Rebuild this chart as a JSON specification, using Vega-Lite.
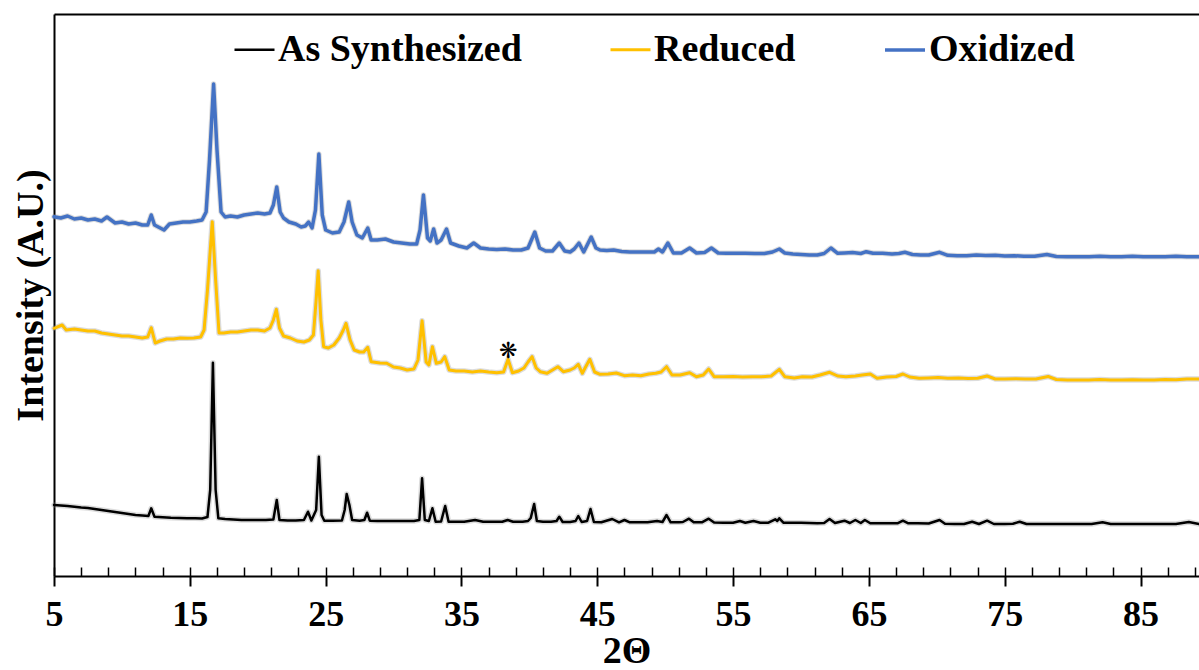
{
  "$schema": "https://vega.github.io/schema/vega-lite/v6.json",
  "width": 1145,
  "height": 562,
  "autosize": {"type": "none"},
  "padding": {"left": 54, "top": 14, "right": 0, "bottom": 94},
  "config": {"view": {"stroke": null}, "font": "Liberation Serif"},
  "datasets": {
    "xrd": [
      {"s":"Oxidized","t":5.0,"v":359.3},{"s":"Oxidized","t":5.5,"v":358},{"s":"Oxidized","t":6.0,"v":360},{"s":"Oxidized","t":6.5,"v":357},{"s":"Oxidized","t":7.0,"v":358},{"s":"Oxidized","t":7.5,"v":356},{"s":"Oxidized","t":8.0,"v":357},{"s":"Oxidized","t":8.5,"v":355},{"s":"Oxidized","t":8.9,"v":359},{"s":"Oxidized","t":9.5,"v":353},{"s":"Oxidized","t":10.0,"v":354},{"s":"Oxidized","t":10.5,"v":352},{"s":"Oxidized","t":11.0,"v":353},{"s":"Oxidized","t":11.5,"v":351},{"s":"Oxidized","t":11.9,"v":351},{"s":"Oxidized","t":12.16,"v":361},{"s":"Oxidized","t":12.4,"v":351},{"s":"Oxidized","t":13.1,"v":346},{"s":"Oxidized","t":13.5,"v":352},{"s":"Oxidized","t":14.0,"v":353},{"s":"Oxidized","t":14.5,"v":354},{"s":"Oxidized","t":15.0,"v":354},{"s":"Oxidized","t":15.5,"v":355},{"s":"Oxidized","t":15.9,"v":356},{"s":"Oxidized","t":16.2,"v":364},{"s":"Oxidized","t":16.45,"v":416},{"s":"Oxidized","t":16.75,"v":492},{"s":"Oxidized","t":17.0,"v":426},{"s":"Oxidized","t":17.3,"v":364},{"s":"Oxidized","t":17.6,"v":359},{"s":"Oxidized","t":18.0,"v":360},{"s":"Oxidized","t":18.5,"v":359},{"s":"Oxidized","t":19.0,"v":361},{"s":"Oxidized","t":19.5,"v":362},{"s":"Oxidized","t":20.0,"v":363},{"s":"Oxidized","t":20.5,"v":362},{"s":"Oxidized","t":20.9,"v":363},{"s":"Oxidized","t":21.15,"v":371},{"s":"Oxidized","t":21.4,"v":389},{"s":"Oxidized","t":21.65,"v":364},{"s":"Oxidized","t":21.9,"v":358},{"s":"Oxidized","t":22.3,"v":354},{"s":"Oxidized","t":22.8,"v":352},{"s":"Oxidized","t":23.2,"v":349},{"s":"Oxidized","t":23.5,"v":350},{"s":"Oxidized","t":23.75,"v":354},{"s":"Oxidized","t":24.0,"v":348},{"s":"Oxidized","t":24.25,"v":366},{"s":"Oxidized","t":24.5,"v":422},{"s":"Oxidized","t":24.75,"v":361},{"s":"Oxidized","t":25.0,"v":346},{"s":"Oxidized","t":25.5,"v":343},{"s":"Oxidized","t":26.0,"v":344},{"s":"Oxidized","t":26.35,"v":354},{"s":"Oxidized","t":26.7,"v":374},{"s":"Oxidized","t":26.95,"v":354},{"s":"Oxidized","t":27.3,"v":341},{"s":"Oxidized","t":27.7,"v":338},{"s":"Oxidized","t":28.1,"v":348},{"s":"Oxidized","t":28.35,"v":336},{"s":"Oxidized","t":28.8,"v":336},{"s":"Oxidized","t":29.4,"v":337},{"s":"Oxidized","t":30.0,"v":334},{"s":"Oxidized","t":30.6,"v":333},{"s":"Oxidized","t":31.2,"v":332},{"s":"Oxidized","t":31.7,"v":332},{"s":"Oxidized","t":31.95,"v":346},{"s":"Oxidized","t":32.2,"v":381},{"s":"Oxidized","t":32.5,"v":338},{"s":"Oxidized","t":32.7,"v":335},{"s":"Oxidized","t":32.95,"v":347},{"s":"Oxidized","t":33.2,"v":333},{"s":"Oxidized","t":33.5,"v":336},{"s":"Oxidized","t":33.9,"v":347},{"s":"Oxidized","t":34.2,"v":333},{"s":"Oxidized","t":34.8,"v":330},{"s":"Oxidized","t":35.4,"v":328},{"s":"Oxidized","t":35.9,"v":333},{"s":"Oxidized","t":36.4,"v":328},{"s":"Oxidized","t":37.0,"v":327},{"s":"Oxidized","t":37.6,"v":326.5},{"s":"Oxidized","t":38.2,"v":327},{"s":"Oxidized","t":38.8,"v":326},{"s":"Oxidized","t":39.4,"v":326},{"s":"Oxidized","t":39.9,"v":328},{"s":"Oxidized","t":40.15,"v":336},{"s":"Oxidized","t":40.4,"v":344},{"s":"Oxidized","t":40.75,"v":328},{"s":"Oxidized","t":41.2,"v":325},{"s":"Oxidized","t":41.7,"v":325},{"s":"Oxidized","t":42.2,"v":333},{"s":"Oxidized","t":42.6,"v":325},{"s":"Oxidized","t":43.0,"v":324},{"s":"Oxidized","t":43.3,"v":327},{"s":"Oxidized","t":43.65,"v":333},{"s":"Oxidized","t":44.0,"v":324},{"s":"Oxidized","t":44.55,"v":339},{"s":"Oxidized","t":44.9,"v":328},{"s":"Oxidized","t":45.2,"v":326},{"s":"Oxidized","t":45.7,"v":325.5},{"s":"Oxidized","t":46.2,"v":326},{"s":"Oxidized","t":46.8,"v":324.5},{"s":"Oxidized","t":47.4,"v":324},{"s":"Oxidized","t":48.0,"v":324},{"s":"Oxidized","t":48.6,"v":324},{"s":"Oxidized","t":49.2,"v":324},{"s":"Oxidized","t":49.5,"v":327},{"s":"Oxidized","t":49.8,"v":324},{"s":"Oxidized","t":50.2,"v":333},{"s":"Oxidized","t":50.6,"v":323},{"s":"Oxidized","t":51.2,"v":323},{"s":"Oxidized","t":51.8,"v":328},{"s":"Oxidized","t":52.3,"v":323},{"s":"Oxidized","t":52.9,"v":323.5},{"s":"Oxidized","t":53.4,"v":328},{"s":"Oxidized","t":53.9,"v":323},{"s":"Oxidized","t":54.5,"v":322.7},{"s":"Oxidized","t":55.2,"v":322.7},{"s":"Oxidized","t":55.9,"v":322.7},{"s":"Oxidized","t":56.6,"v":322.5},{"s":"Oxidized","t":57.3,"v":322.5},{"s":"Oxidized","t":57.9,"v":324},{"s":"Oxidized","t":58.4,"v":327},{"s":"Oxidized","t":58.8,"v":323},{"s":"Oxidized","t":59.4,"v":322},{"s":"Oxidized","t":60.0,"v":321.5},{"s":"Oxidized","t":60.6,"v":321},{"s":"Oxidized","t":61.2,"v":321},{"s":"Oxidized","t":61.7,"v":322.5},{"s":"Oxidized","t":62.2,"v":328},{"s":"Oxidized","t":62.7,"v":322.7},{"s":"Oxidized","t":63.2,"v":323},{"s":"Oxidized","t":63.8,"v":323.5},{"s":"Oxidized","t":64.4,"v":322.5},{"s":"Oxidized","t":64.8,"v":324.3},{"s":"Oxidized","t":65.3,"v":322.7},{"s":"Oxidized","t":66.0,"v":322.7},{"s":"Oxidized","t":66.7,"v":322},{"s":"Oxidized","t":67.2,"v":322.5},{"s":"Oxidized","t":67.65,"v":323.7},{"s":"Oxidized","t":68.2,"v":321.5},{"s":"Oxidized","t":68.8,"v":321},{"s":"Oxidized","t":69.4,"v":321},{"s":"Oxidized","t":70.2,"v":323.7},{"s":"Oxidized","t":70.8,"v":320.7},{"s":"Oxidized","t":71.5,"v":320.3},{"s":"Oxidized","t":72.2,"v":320.3},{"s":"Oxidized","t":72.9,"v":321},{"s":"Oxidized","t":73.6,"v":320.5},{"s":"Oxidized","t":74.3,"v":320.7},{"s":"Oxidized","t":75.0,"v":320},{"s":"Oxidized","t":75.7,"v":320.3},{"s":"Oxidized","t":76.4,"v":319.7},{"s":"Oxidized","t":77.2,"v":319.7},{"s":"Oxidized","t":78.1,"v":321.5},{"s":"Oxidized","t":78.8,"v":319.5},{"s":"Oxidized","t":79.6,"v":319.3},{"s":"Oxidized","t":80.4,"v":319.3},{"s":"Oxidized","t":81.2,"v":319.3},{"s":"Oxidized","t":82.0,"v":319.7},{"s":"Oxidized","t":82.8,"v":319.3},{"s":"Oxidized","t":83.6,"v":319.3},{"s":"Oxidized","t":84.4,"v":319.7},{"s":"Oxidized","t":85.2,"v":319.3},{"s":"Oxidized","t":86.0,"v":319.3},{"s":"Oxidized","t":86.8,"v":319.3},{"s":"Oxidized","t":87.6,"v":319.7},{"s":"Oxidized","t":88.4,"v":319.3},{"s":"Oxidized","t":89.3,"v":319.3},
      {"s":"Reduced","t":5.0,"v":247.7},{"s":"Reduced","t":5.6,"v":251},{"s":"Reduced","t":5.9,"v":246},{"s":"Reduced","t":6.5,"v":247},{"s":"Reduced","t":7.0,"v":246},{"s":"Reduced","t":7.5,"v":245},{"s":"Reduced","t":8.0,"v":245},{"s":"Reduced","t":8.5,"v":243},{"s":"Reduced","t":9.0,"v":242},{"s":"Reduced","t":9.5,"v":241},{"s":"Reduced","t":10.0,"v":240},{"s":"Reduced","t":10.5,"v":240},{"s":"Reduced","t":11.0,"v":239},{"s":"Reduced","t":11.5,"v":238},{"s":"Reduced","t":11.9,"v":239},{"s":"Reduced","t":12.16,"v":248.3},{"s":"Reduced","t":12.45,"v":233},{"s":"Reduced","t":12.8,"v":235},{"s":"Reduced","t":13.3,"v":237},{"s":"Reduced","t":13.8,"v":237},{"s":"Reduced","t":14.3,"v":238},{"s":"Reduced","t":14.8,"v":237.7},{"s":"Reduced","t":15.3,"v":238},{"s":"Reduced","t":15.8,"v":239},{"s":"Reduced","t":16.05,"v":246},{"s":"Reduced","t":16.3,"v":286},{"s":"Reduced","t":16.65,"v":354.3},{"s":"Reduced","t":16.9,"v":296},{"s":"Reduced","t":17.15,"v":243},{"s":"Reduced","t":17.5,"v":243},{"s":"Reduced","t":18.0,"v":244},{"s":"Reduced","t":18.5,"v":244},{"s":"Reduced","t":19.0,"v":245},{"s":"Reduced","t":19.5,"v":246},{"s":"Reduced","t":20.0,"v":246},{"s":"Reduced","t":20.5,"v":245},{"s":"Reduced","t":20.9,"v":248},{"s":"Reduced","t":21.15,"v":256},{"s":"Reduced","t":21.37,"v":266.7},{"s":"Reduced","t":21.6,"v":248},{"s":"Reduced","t":21.9,"v":240},{"s":"Reduced","t":22.4,"v":238},{"s":"Reduced","t":22.9,"v":235},{"s":"Reduced","t":23.4,"v":234},{"s":"Reduced","t":23.8,"v":236},{"s":"Reduced","t":24.1,"v":241},{"s":"Reduced","t":24.3,"v":276},{"s":"Reduced","t":24.45,"v":305.3},{"s":"Reduced","t":24.65,"v":256},{"s":"Reduced","t":24.85,"v":229.3},{"s":"Reduced","t":25.2,"v":228},{"s":"Reduced","t":25.6,"v":231},{"s":"Reduced","t":26.0,"v":238},{"s":"Reduced","t":26.3,"v":246},{"s":"Reduced","t":26.5,"v":252.7},{"s":"Reduced","t":26.8,"v":236},{"s":"Reduced","t":27.1,"v":226},{"s":"Reduced","t":27.5,"v":224},{"s":"Reduced","t":27.8,"v":224},{"s":"Reduced","t":28.1,"v":228.7},{"s":"Reduced","t":28.35,"v":214.3},{"s":"Reduced","t":29.0,"v":213},{"s":"Reduced","t":29.5,"v":212.7},{"s":"Reduced","t":30.0,"v":209},{"s":"Reduced","t":30.5,"v":208},{"s":"Reduced","t":31.0,"v":206},{"s":"Reduced","t":31.5,"v":207},{"s":"Reduced","t":31.8,"v":216},{"s":"Reduced","t":32.1,"v":255.3},{"s":"Reduced","t":32.4,"v":214},{"s":"Reduced","t":32.6,"v":211},{"s":"Reduced","t":32.86,"v":229.3},{"s":"Reduced","t":33.15,"v":212.7},{"s":"Reduced","t":33.5,"v":214},{"s":"Reduced","t":33.77,"v":219.3},{"s":"Reduced","t":34.1,"v":206},{"s":"Reduced","t":34.6,"v":205},{"s":"Reduced","t":35.2,"v":205},{"s":"Reduced","t":35.8,"v":204},{"s":"Reduced","t":36.4,"v":205},{"s":"Reduced","t":37.0,"v":204},{"s":"Reduced","t":37.6,"v":203.3},{"s":"Reduced","t":38.1,"v":204},{"s":"Reduced","t":38.43,"v":216.7},{"s":"Reduced","t":38.75,"v":203.3},{"s":"Reduced","t":39.2,"v":205},{"s":"Reduced","t":39.6,"v":208},{"s":"Reduced","t":39.9,"v":214},{"s":"Reduced","t":40.2,"v":219.3},{"s":"Reduced","t":40.5,"v":208},{"s":"Reduced","t":40.8,"v":204.3},{"s":"Reduced","t":41.3,"v":202.7},{"s":"Reduced","t":41.7,"v":206},{"s":"Reduced","t":42.1,"v":209.3},{"s":"Reduced","t":42.5,"v":204.3},{"s":"Reduced","t":43.0,"v":206},{"s":"Reduced","t":43.3,"v":208},{"s":"Reduced","t":43.6,"v":211.7},{"s":"Reduced","t":43.9,"v":202.7},{"s":"Reduced","t":44.1,"v":208},{"s":"Reduced","t":44.45,"v":216.7},{"s":"Reduced","t":44.8,"v":204},{"s":"Reduced","t":45.2,"v":201.7},{"s":"Reduced","t":45.8,"v":202},{"s":"Reduced","t":46.4,"v":203},{"s":"Reduced","t":47.0,"v":200.3},{"s":"Reduced","t":47.6,"v":201},{"s":"Reduced","t":48.2,"v":200.3},{"s":"Reduced","t":48.8,"v":202},{"s":"Reduced","t":49.3,"v":202.7},{"s":"Reduced","t":49.7,"v":204},{"s":"Reduced","t":50.1,"v":209.3},{"s":"Reduced","t":50.5,"v":201},{"s":"Reduced","t":51.1,"v":201},{"s":"Reduced","t":51.8,"v":203.3},{"s":"Reduced","t":52.3,"v":199.3},{"s":"Reduced","t":52.8,"v":201},{"s":"Reduced","t":53.2,"v":207},{"s":"Reduced","t":53.6,"v":199.3},{"s":"Reduced","t":54.3,"v":199.3},{"s":"Reduced","t":55.0,"v":199.5},{"s":"Reduced","t":55.7,"v":199},{"s":"Reduced","t":56.4,"v":199.3},{"s":"Reduced","t":57.1,"v":199.3},{"s":"Reduced","t":57.8,"v":200},{"s":"Reduced","t":58.4,"v":206.7},{"s":"Reduced","t":58.8,"v":199.3},{"s":"Reduced","t":59.5,"v":198},{"s":"Reduced","t":60.1,"v":199.3},{"s":"Reduced","t":60.8,"v":199},{"s":"Reduced","t":61.4,"v":201},{"s":"Reduced","t":62.1,"v":203.7},{"s":"Reduced","t":62.7,"v":200},{"s":"Reduced","t":63.3,"v":199.3},{"s":"Reduced","t":64.0,"v":200},{"s":"Reduced","t":64.5,"v":201},{"s":"Reduced","t":65.1,"v":202},{"s":"Reduced","t":65.6,"v":197.7},{"s":"Reduced","t":66.3,"v":199},{"s":"Reduced","t":67.0,"v":199.5},{"s":"Reduced","t":67.5,"v":202},{"s":"Reduced","t":68.0,"v":199},{"s":"Reduced","t":68.7,"v":197.7},{"s":"Reduced","t":69.4,"v":198},{"s":"Reduced","t":70.1,"v":198.5},{"s":"Reduced","t":70.8,"v":197.7},{"s":"Reduced","t":71.6,"v":198},{"s":"Reduced","t":72.3,"v":197.5},{"s":"Reduced","t":73.0,"v":197.7},{"s":"Reduced","t":73.7,"v":200},{"s":"Reduced","t":74.3,"v":197},{"s":"Reduced","t":75.0,"v":197},{"s":"Reduced","t":75.8,"v":197.3},{"s":"Reduced","t":76.5,"v":197},{"s":"Reduced","t":77.3,"v":197},{"s":"Reduced","t":78.2,"v":199.5},{"s":"Reduced","t":78.8,"v":196.5},{"s":"Reduced","t":79.6,"v":196},{"s":"Reduced","t":80.4,"v":196},{"s":"Reduced","t":81.2,"v":196},{"s":"Reduced","t":82.0,"v":196.5},{"s":"Reduced","t":82.8,"v":196},{"s":"Reduced","t":83.6,"v":196},{"s":"Reduced","t":84.4,"v":196.3},{"s":"Reduced","t":85.2,"v":196},{"s":"Reduced","t":86.0,"v":196},{"s":"Reduced","t":86.8,"v":196.5},{"s":"Reduced","t":87.6,"v":196.3},{"s":"Reduced","t":88.4,"v":197},{"s":"Reduced","t":89.3,"v":197},
      {"s":"As Synthesized","t":5.0,"v":71},{"s":"As Synthesized","t":5.5,"v":70.5},{"s":"As Synthesized","t":6.0,"v":70},{"s":"As Synthesized","t":6.5,"v":69.3},{"s":"As Synthesized","t":7.0,"v":68.5},{"s":"As Synthesized","t":7.5,"v":68},{"s":"As Synthesized","t":8.0,"v":67},{"s":"As Synthesized","t":8.5,"v":66},{"s":"As Synthesized","t":9.0,"v":65},{"s":"As Synthesized","t":9.5,"v":64},{"s":"As Synthesized","t":10.0,"v":63},{"s":"As Synthesized","t":10.5,"v":62},{"s":"As Synthesized","t":11.0,"v":61},{"s":"As Synthesized","t":11.5,"v":60.5},{"s":"As Synthesized","t":11.95,"v":60},{"s":"As Synthesized","t":12.16,"v":67.7},{"s":"As Synthesized","t":12.4,"v":59.3},{"s":"As Synthesized","t":13.0,"v":58.7},{"s":"As Synthesized","t":13.6,"v":58.2},{"s":"As Synthesized","t":14.2,"v":58},{"s":"As Synthesized","t":14.8,"v":57.7},{"s":"As Synthesized","t":15.4,"v":57.7},{"s":"As Synthesized","t":15.9,"v":57.5},{"s":"As Synthesized","t":16.3,"v":59},{"s":"As Synthesized","t":16.5,"v":86},{"s":"As Synthesized","t":16.7,"v":213.3},{"s":"As Synthesized","t":16.9,"v":86},{"s":"As Synthesized","t":17.1,"v":57.7},{"s":"As Synthesized","t":17.6,"v":57},{"s":"As Synthesized","t":18.2,"v":56.5},{"s":"As Synthesized","t":18.8,"v":56},{"s":"As Synthesized","t":19.4,"v":56},{"s":"As Synthesized","t":20.0,"v":56},{"s":"As Synthesized","t":20.6,"v":56},{"s":"As Synthesized","t":21.15,"v":56.5},{"s":"As Synthesized","t":21.4,"v":76},{"s":"As Synthesized","t":21.6,"v":56},{"s":"As Synthesized","t":22.2,"v":55.5},{"s":"As Synthesized","t":22.8,"v":55.5},{"s":"As Synthesized","t":23.4,"v":56},{"s":"As Synthesized","t":23.7,"v":64.3},{"s":"As Synthesized","t":23.95,"v":55.5},{"s":"As Synthesized","t":24.3,"v":66},{"s":"As Synthesized","t":24.5,"v":119.3},{"s":"As Synthesized","t":24.7,"v":61},{"s":"As Synthesized","t":24.9,"v":55.3},{"s":"As Synthesized","t":25.5,"v":55.3},{"s":"As Synthesized","t":26.2,"v":55.5},{"s":"As Synthesized","t":26.4,"v":66},{"s":"As Synthesized","t":26.55,"v":82},{"s":"As Synthesized","t":26.75,"v":71},{"s":"As Synthesized","t":26.95,"v":56},{"s":"As Synthesized","t":27.5,"v":55.3},{"s":"As Synthesized","t":27.85,"v":56},{"s":"As Synthesized","t":28.05,"v":63.3},{"s":"As Synthesized","t":28.25,"v":55.3},{"s":"As Synthesized","t":28.8,"v":55},{"s":"As Synthesized","t":29.5,"v":55},{"s":"As Synthesized","t":30.2,"v":55},{"s":"As Synthesized","t":30.9,"v":55},{"s":"As Synthesized","t":31.5,"v":55},{"s":"As Synthesized","t":31.9,"v":56},{"s":"As Synthesized","t":32.1,"v":97.7},{"s":"As Synthesized","t":32.3,"v":56},{"s":"As Synthesized","t":32.6,"v":55},{"s":"As Synthesized","t":32.86,"v":67.7},{"s":"As Synthesized","t":33.1,"v":54.3},{"s":"As Synthesized","t":33.5,"v":54.5},{"s":"As Synthesized","t":33.8,"v":70},{"s":"As Synthesized","t":34.05,"v":54.3},{"s":"As Synthesized","t":34.6,"v":54.3},{"s":"As Synthesized","t":35.2,"v":54.3},{"s":"As Synthesized","t":36.0,"v":56},{"s":"As Synthesized","t":36.6,"v":54.3},{"s":"As Synthesized","t":37.3,"v":54.3},{"s":"As Synthesized","t":38.0,"v":54.3},{"s":"As Synthesized","t":38.4,"v":56},{"s":"As Synthesized","t":38.8,"v":54.3},{"s":"As Synthesized","t":39.5,"v":54.3},{"s":"As Synthesized","t":39.9,"v":55},{"s":"As Synthesized","t":40.1,"v":58},{"s":"As Synthesized","t":40.35,"v":72},{"s":"As Synthesized","t":40.55,"v":55},{"s":"As Synthesized","t":41.0,"v":54.3},{"s":"As Synthesized","t":41.6,"v":54.3},{"s":"As Synthesized","t":42.0,"v":55},{"s":"As Synthesized","t":42.2,"v":59.3},{"s":"As Synthesized","t":42.45,"v":54},{"s":"As Synthesized","t":43.0,"v":54},{"s":"As Synthesized","t":43.4,"v":55},{"s":"As Synthesized","t":43.6,"v":60},{"s":"As Synthesized","t":43.85,"v":54},{"s":"As Synthesized","t":44.25,"v":55},{"s":"As Synthesized","t":44.5,"v":67},{"s":"As Synthesized","t":44.75,"v":54},{"s":"As Synthesized","t":45.3,"v":53.7},{"s":"As Synthesized","t":46.1,"v":57},{"s":"As Synthesized","t":46.6,"v":53.7},{"s":"As Synthesized","t":47.0,"v":56},{"s":"As Synthesized","t":47.4,"v":53.7},{"s":"As Synthesized","t":48.0,"v":53.7},{"s":"As Synthesized","t":48.7,"v":53.7},{"s":"As Synthesized","t":49.4,"v":55},{"s":"As Synthesized","t":49.8,"v":54},{"s":"As Synthesized","t":50.1,"v":61},{"s":"As Synthesized","t":50.4,"v":53.7},{"s":"As Synthesized","t":51.0,"v":53.7},{"s":"As Synthesized","t":51.3,"v":54},{"s":"As Synthesized","t":51.75,"v":57.3},{"s":"As Synthesized","t":52.1,"v":53.7},{"s":"As Synthesized","t":52.7,"v":53.7},{"s":"As Synthesized","t":53.2,"v":57.3},{"s":"As Synthesized","t":53.6,"v":53.5},{"s":"As Synthesized","t":54.3,"v":53.3},{"s":"As Synthesized","t":55.0,"v":53.3},{"s":"As Synthesized","t":55.5,"v":55},{"s":"As Synthesized","t":55.9,"v":53.3},{"s":"As Synthesized","t":56.5,"v":55},{"s":"As Synthesized","t":57.0,"v":53.3},{"s":"As Synthesized","t":57.6,"v":53.3},{"s":"As Synthesized","t":58.1,"v":56.7},{"s":"As Synthesized","t":58.25,"v":55},{"s":"As Synthesized","t":58.4,"v":57.7},{"s":"As Synthesized","t":58.7,"v":53.3},{"s":"As Synthesized","t":59.3,"v":53.3},{"s":"As Synthesized","t":60.0,"v":53.3},{"s":"As Synthesized","t":60.6,"v":53},{"s":"As Synthesized","t":61.2,"v":52.7},{"s":"As Synthesized","t":61.7,"v":53},{"s":"As Synthesized","t":62.1,"v":57},{"s":"As Synthesized","t":62.5,"v":53},{"s":"As Synthesized","t":63.2,"v":55.3},{"s":"As Synthesized","t":63.6,"v":53},{"s":"As Synthesized","t":64.0,"v":56},{"s":"As Synthesized","t":64.4,"v":53},{"s":"As Synthesized","t":64.7,"v":56},{"s":"As Synthesized","t":65.1,"v":52.7},{"s":"As Synthesized","t":65.8,"v":52.7},{"s":"As Synthesized","t":66.5,"v":52.7},{"s":"As Synthesized","t":67.1,"v":52.7},{"s":"As Synthesized","t":67.5,"v":55.3},{"s":"As Synthesized","t":67.9,"v":52.7},{"s":"As Synthesized","t":68.6,"v":52.7},{"s":"As Synthesized","t":69.4,"v":52.5},{"s":"As Synthesized","t":70.2,"v":56},{"s":"As Synthesized","t":70.6,"v":52.3},{"s":"As Synthesized","t":71.3,"v":52},{"s":"As Synthesized","t":72.0,"v":52},{"s":"As Synthesized","t":72.6,"v":54.3},{"s":"As Synthesized","t":73.1,"v":52},{"s":"As Synthesized","t":73.7,"v":55.3},{"s":"As Synthesized","t":74.2,"v":52},{"s":"As Synthesized","t":75.0,"v":52},{"s":"As Synthesized","t":75.6,"v":52.3},{"s":"As Synthesized","t":76.1,"v":54.3},{"s":"As Synthesized","t":76.6,"v":52},{"s":"As Synthesized","t":77.4,"v":52},{"s":"As Synthesized","t":78.2,"v":52},{"s":"As Synthesized","t":79.0,"v":52},{"s":"As Synthesized","t":79.8,"v":52},{"s":"As Synthesized","t":80.6,"v":52},{"s":"As Synthesized","t":81.4,"v":52},{"s":"As Synthesized","t":82.2,"v":53.7},{"s":"As Synthesized","t":82.8,"v":52},{"s":"As Synthesized","t":83.6,"v":52},{"s":"As Synthesized","t":84.4,"v":52},{"s":"As Synthesized","t":85.2,"v":52},{"s":"As Synthesized","t":86.0,"v":52},{"s":"As Synthesized","t":86.8,"v":52},{"s":"As Synthesized","t":87.6,"v":52},{"s":"As Synthesized","t":88.55,"v":54},{"s":"As Synthesized","t":89.3,"v":52}
    ],
    "marker": [{"t": 38.45, "v": 225, "label": "❋"}],
    "range": [{"t": 5}, {"t": 89.3}]
  },
  "layer": [
    {
      "data": {"name": "xrd"},
      "mark": {"type": "line", "strokeJoin": "round", "strokeCap": "round", "stroke": "#8c8c8c", "strokeWidth": 5.5, "opacity": 0.3},
      "encoding": {
        "x": {"field": "t", "type": "quantitative", "scale": {"domain": [5, 89.3], "nice": false, "zero": false}, "axis": null},
        "y": {"field": "v", "type": "quantitative", "scale": {"domain": [0, 562], "nice": false, "zero": false}},
        "detail": {"field": "s", "type": "nominal"}
      }
    },
    {
      "data": {"name": "xrd"},
      "mark": {"type": "line", "interpolate": "linear", "strokeJoin": "round", "strokeCap": "round"},
      "encoding": {
        "x": {
          "field": "t", "type": "quantitative",
          "scale": {"domain": [5, 89.3], "nice": false, "zero": false},
          "axis": {
            "orient": "bottom", "values": [5, 15, 25, 35, 45, 55, 65, 75, 85],
            "tickSize": 10, "tickWidth": 2, "tickColor": "black",
            "domainColor": "black", "domainWidth": 2,
            "labelFont": "Liberation Serif", "labelFontSize": 36, "labelFontWeight": "bold", "labelColor": "black",
            "labelPadding": 11, "labelFlush": false, "labelOverlap": false, "grid": false,
            "title": "2Θ", "titleFont": "Liberation Serif", "titleFontSize": 38, "titleFontWeight": "bold",
            "titleColor": "black", "titlePadding": 0
          }
        },
        "y": {
          "field": "v", "type": "quantitative",
          "scale": {"domain": [0, 562], "nice": false, "zero": false},
          "axis": {
            "orient": "left", "domain": true, "domainColor": "black", "domainWidth": 2,
            "ticks": false, "labels": false, "grid": false,
            "title": "Intensity (A.U.)", "titleFont": "Liberation Serif", "titleFontSize": 38,
            "titleFontWeight": "bold", "titleColor": "black", "titlePadding": 4
          }
        },
        "color": {
          "field": "s", "type": "nominal",
          "scale": {"domain": ["As Synthesized", "Reduced", "Oxidized"], "range": ["#000000", "#FFC000", "#4472C4"]},
          "legend": {
            "orient": "none", "legendX": 179, "legendY": 14, "direction": "horizontal", "title": null,
            "symbolType": "stroke", "symbolSize": 1600, "symbolStrokeWidth": 3,
            "labelFont": "Liberation Serif", "labelFontSize": 38, "labelFontWeight": "bold", "labelColor": "black",
            "labelOffset": 2, "columnPadding": 82, "labelLimit": 1000, "padding": 0
          }
        },
        "strokeWidth": {
          "field": "s", "type": "nominal",
          "scale": {"domain": ["As Synthesized", "Reduced", "Oxidized"], "range": [2.5, 3.5, 3.5]},
          "legend": null
        }
      }
    },
    {
      "data": {"name": "range"},
      "mark": {"type": "point", "opacity": 0},
      "encoding": {
        "x": {
          "field": "t", "type": "quantitative",
          "scale": {"domain": [5, 89.3], "nice": false, "zero": false},
          "axis": {
            "orient": "bottom",
            "values": [5, 7, 9, 11, 13, 15, 17, 19, 21, 23, 25, 27, 29, 31, 33, 35, 37, 39, 41, 43, 45, 47, 49, 51, 53, 55, 57, 59, 61, 63, 65, 67, 69, 71, 73, 75, 77, 79, 81, 83, 85, 87, 89],
            "tickSize": -9, "tickWidth": 1.5, "tickColor": "black",
            "domain": false, "labels": false, "grid": false, "title": null
          }
        }
      }
    },
    {
      "data": {"name": "range"},
      "mark": {"type": "point", "opacity": 0},
      "encoding": {
        "x": {
          "field": "t", "type": "quantitative",
          "scale": {"domain": [5, 89.3], "nice": false, "zero": false},
          "axis": {
            "orient": "top", "domain": true, "domainColor": "black", "domainWidth": 2,
            "ticks": false, "labels": false, "grid": false, "title": null
          }
        }
      }
    },
    {
      "data": {"name": "marker"},
      "mark": {"type": "text", "font": "DejaVu Sans", "fontSize": 22, "color": "black", "baseline": "middle", "align": "center"},
      "encoding": {
        "x": {"field": "t", "type": "quantitative", "axis": null},
        "y": {"field": "v", "type": "quantitative"},
        "text": {"field": "label"}
      }
    }
  ],
  "resolve": {"axis": {"x": "independent"}}
}
